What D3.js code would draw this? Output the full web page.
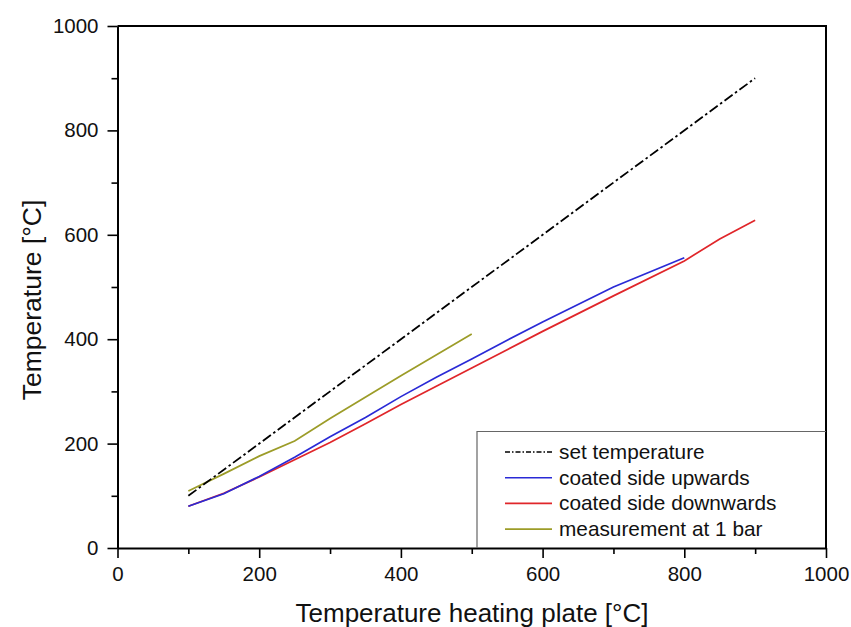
<!DOCTYPE html>
<html>
<head>
<meta charset="utf-8">
<script src="https://cdn.jsdelivr.net/npm/d3@7"></script>
<style>
  body { margin: 0; background: #fff; }
  svg { font-family: "Liberation Sans", Arial, sans-serif; }
</style>
</head>
<body>
<svg></svg>
<script>
// Data
const setX = [100, 900];
const setY = [100, 900];

const upX = [100, 150, 200, 250, 300, 350, 400, 450, 500, 550, 600, 700, 800];
const upY = [80, 104, 137, 174, 213, 250, 290, 327, 362, 398, 433, 500, 556];

const downX = [100, 150, 200, 250, 300, 350, 400, 450, 500, 550, 600, 700, 800, 850, 900];
const downY = [80, 105, 136, 169, 202, 238, 275, 310, 345, 380, 415, 483, 550, 592, 628];

const barX = [100, 150, 200, 250, 300, 400, 500];
const barY = [109, 142, 176, 205, 248, 330, 410];

const majorTicks = [0, 200, 400, 600, 800, 1000];
const minorTicks = [100, 300, 500, 700, 900];

const seriesNames = ["set temperature", "coated side upwards", "coated side downwards", "measurement at 1 bar"];
const seriesColors = ["#000000", "#2a2ad6", "#e0262a", "#9c9c28"];

const width = 851;
const height = 627;
const margin = { top: 26, right: 25, bottom: 79, left: 117.5 };

const svg = d3.select("svg")
  .attr("width", width)
  .attr("height", height);

const chartWidth = width - margin.left - margin.right;
const chartHeight = height - margin.top - margin.bottom;

const chart = svg.append("g")
  .attr("transform", `translate(${margin.left}, ${margin.top})`);

const x = d3.scaleLinear().domain([0, 1000]).range([0, chartWidth]);
const y = d3.scaleLinear().domain([0, 1000]).range([chartHeight, 0]);

// frame (top + right)
chart.append("path")
  .attr("d", `M0,0H${chartWidth}V${chartHeight}`)
  .attr("fill", "none")
  .attr("stroke", "#000")
  .attr("stroke-width", 2);

// Axes - major ticks with labels, minor ticks without
chart.append("g")
  .attr("transform", `translate(0, ${chartHeight})`)
  .call(d3.axisBottom(x).tickValues(majorTicks).tickFormat(d3.format("d")).tickSize(10).tickPadding(8).tickSizeOuter(0));
chart.append("g")
  .attr("transform", `translate(0, ${chartHeight})`)
  .call(d3.axisBottom(x).tickValues(minorTicks).tickSize(6).tickFormat("").tickSizeOuter(0))
  .select(".domain").remove();

chart.append("g")
  .call(d3.axisLeft(y).tickValues(majorTicks).tickFormat(d3.format("d")).tickSize(10).tickPadding(9).tickSizeOuter(0));
chart.append("g")
  .call(d3.axisLeft(y).tickValues(minorTicks).tickSize(6).tickFormat("").tickSizeOuter(0))
  .select(".domain").remove();

chart.selectAll(".domain").attr("stroke-width", 2);
chart.selectAll(".tick line").attr("stroke-width", 1.6);
chart.selectAll(".tick text")
  .attr("font-size", 20.5)
  .attr("font-family", "Liberation Sans, Arial, sans-serif")
  .attr("fill", "#111");

// Lines
const line = d3.line().x(d => x(d[0])).y(d => y(d[1]));

const series = [
  { xs: setX, ys: setY, dash: "10,3,2.5,3" },
  { xs: upX, ys: upY, dash: null },
  { xs: downX, ys: downY, dash: null },
  { xs: barX, ys: barY, dash: null }
];

// draw red below blue like the picture
[2, 1, 3, 0].forEach(i => {
  const s = series[i];
  chart.append("path")
    .datum(s.xs.map((v, k) => [v, s.ys[k]]))
    .attr("fill", "none")
    .attr("stroke", seriesColors[i])
    .attr("stroke-width", i === 0 ? 1.8 : 1.7)
    .attr("stroke-dasharray", s.dash)
    .attr("d", line);
});

// Legend
const legend = svg.append("g");
legend.append("path")
  .attr("d", `M477,548V431.5H${margin.left + chartWidth}`)
  .attr("fill", "none")
  .attr("stroke", "#666")
  .attr("stroke-width", 1.2);

seriesNames.forEach((name, i) => {
  const ly = 452 + i * 25.7;
  legend.append("line")
    .attr("x1", 505).attr("x2", 552)
    .attr("y1", ly).attr("y2", ly)
    .attr("stroke", seriesColors[i])
    .attr("stroke-width", 1.6)
    .attr("stroke-dasharray", i === 0 ? "5,2,1.5,2" : null);
  legend.append("text")
    .attr("x", 559)
    .attr("y", ly + 7)
    .attr("font-size", 20.8)
    .attr("fill", "#111")
    .text(name);
});

// Axis titles
svg.append("text")
  .attr("x", 472)
  .attr("y", 622)
  .attr("text-anchor", "middle")
  .attr("font-size", 26)
  .attr("fill", "#111")
  .text("Temperature heating plate [°C]");

svg.append("text")
  .attr("transform", "translate(41, 300) rotate(-90)")
  .attr("text-anchor", "middle")
  .attr("font-size", 26.5)
  .attr("fill", "#111")
  .text("Temperature [°C]");
</script>
</body>
</html>
